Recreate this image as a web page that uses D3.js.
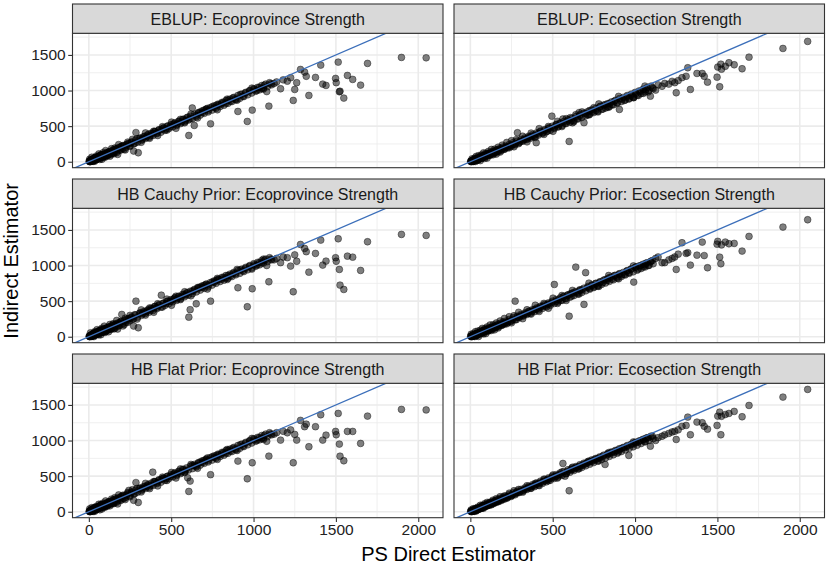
<!DOCTYPE html>
<html>
<head>
<meta charset="utf-8">
<script src="https://cdn.jsdelivr.net/npm/d3@7"></script>
<style>
  body { margin: 0; background: #fff; }
  svg { display: block; font-family: "Liberation Sans", Arial, Helvetica, sans-serif; }
</style>
</head>
<body>
<div id="graph"></div>
<script>
// PS direct estimate per area (shared by every panel)
const directEst = [
  3, 8, 12, 15, 20, 24, 28, 33, 38, 42, 48, 53, 58, 64, 70, 76, 83, 90, 98, 106, 115, 124, 133, 142, 152, 163, 175, 187, 200, 214, 228, 243, 258, 272, 286, 300,
  312, 325, 338, 350, 362, 375, 388, 400, 412, 425, 440, 455, 468, 480, 495, 510, 522, 535, 548, 562, 575, 588, 600, 607, 615, 628, 640, 652, 665, 678, 690, 700,
  712, 725, 739, 750, 762, 775, 790, 805, 818, 832, 845, 860, 875, 890, 905, 920, 935, 950, 962, 975, 992, 1005, 1020, 1035, 1050, 1065, 1080, 1093, 1105,
  1125, 1140, 1164, 1180, 1205, 1225, 1241, 1250, 1262, 1285, 1310, 1320, 1336, 1376, 1408, 1420, 1440, 1498, 1502, 1514, 1521, 1525, 1548, 1570, 1602, 1650, 1692, 1898, 2048,
  5, 10, 18, 26, 31, 36, 45, 50, 61, 67, 73, 80, 87, 94, 102, 110, 120, 128, 138, 147, 158, 169, 181, 194, 207, 221, 236, 250, 265, 279,
  293, 318, 344, 369, 394, 418, 447, 474, 502, 529, 556, 582, 620, 660, 720, 780, 840, 900, 990, 1060
]

// indirect estimates, one array per panel
const eblupProvince = [
  5, 2, 20, 8, 30, 15, 40, 25, 55, 30, 60, 45, 75, 50, 90, 62, 100, 72, 62, 120, 92, 140, 100, 150, 112, 175, 103, 200, 215, 173, 240, 255, 270, 150, 410, 126,
  330, 315, 355, 345, 385, 368, 400, 422, 405, 445, 450, 475, 460, 505, 490, 525, 540, 525, 565, 555, 595, 580, 625, 369, 600, 755, 510, 650, 685, 700, 690, 725,
  735, 720, 533, 775, 760, 795, 800, 815, 835, 820, 865, 850, 895, 880, 706, 945, 920, 965, 566, 995, 725, 1015, 1000, 1045, 1030, 1075, 985, 781, 1095,
  1100, 1120, 1025, 1150, 1132, 1180, 861, 1015, 1110, 1296, 1259, 1200, 931, 1184, 1357, 1090, 1072, 1170, 1110, 1399, 983, 990, 894, 1212, 1156, 1076, 1381, 1465, 1460,
  35, 3, 63, 5, 51, 8, 80, 35, 111, 32, 98, 35, 127, 74, 157, 80, 135, 78, 183, 122, 193, 129, 241, 164, 227, 166, 276, 215, 315, 259,
  323, 273, 404, 329, 429, 368, 492, 444, 557, 469, 596, 547, 670, 615, 750, 730, 880, 865, 1035, 1020
]
const eblupSection = [
  8, 5, 18, 12, 25, 20, 35, 30, 45, 38, 55, 48, 65, 58, 75, 68, 90, 80, 95, 100, 108, 118, 125, 135, 140, 150, 165, 175, 185, 200, 212, 225, 240, 255, 407, 280,
  290, 310, 320, 335, 350, 350, 372, 267, 395, 420, 410, 445, 430, 470, 640, 480, 520, 500, 540, 600, 540, 570, 285, 620, 580, 560, 660, 610, 640, 700, 548, 680,
  660, 720, 700, 760, 720, 700, 780, 740, 800, 770, 820, 800, 850, 830, 734, 880, 860, 910, 880, 930, 900, 960, 930, 990, 960, 1010, 980, 921, 1040,
  1006, 1080, 1060, 1100, 1090, 1130, 1110, 969, 1140, 1180, 1200, 1320, 1015, 1240, 1240, 1200, 1118, 1188, 1330, 1053, 1370, 1300, 1340, 1390, 1362, 1306, 1469, 1591, 1690,
  3, 40, 2, 51, 4, 76, 20, 85, 16, 97, 53, 125, 47, 119, 52, 145, 90, 173, 98, 177, 108, 204, 136, 234, 177, 271, 196, 295, 210, 309,
  253, 358, 279, 403, 342, 465, 384, 495, 427, 568, 494, 605, 546, 690, 658, 812, 765, 918, 900, 1063
]
const cauchyProvince = [
  6, 3, 22, 10, 32, 14, 42, 24, 56, 32, 62, 44, 78, 52, 88, 64, 102, 70, 60, 118, 95, 138, 102, 152, 110, 172, 108, 198, 313, 170, 238, 252, 268, 150, 500, 126,
  335, 320, 350, 350, 378, 372, 398, 425, 410, 440, 584, 470, 465, 500, 495, 520, 545, 530, 560, 560, 590, 585, 620, 275, 380, 640, 655, 463, 680, 700, 695, 720,
  735, 725, 500, 770, 765, 790, 805, 810, 835, 825, 860, 855, 890, 885, 688, 940, 925, 960, 421, 990, 674, 1010, 1005, 1040, 1035, 1070, 1000, 772, 1090,
  1080, 1100, 1040, 1120, 1110, 992, 632, 1150, 1060, 1296, 1240, 1194, 907, 1170, 1357, 1006, 1062, 1110, 1060, 1376, 945, 725, 664, 1132, 1118, 931, 1334, 1437, 1423,
  4, 55, 3, 46, 2, 71, 30, 100, 26, 92, 28, 120, 67, 149, 72, 125, 70, 173, 113, 182, 118, 229, 151, 214, 152, 261, 201, 300, 245, 309,
  248, 378, 304, 404, 344, 463, 417, 529, 442, 569, 521, 632, 575, 690, 670, 820, 805, 945, 950, 1090
]
const cauchySection = [
  6, 4, 15, 10, 22, 18, 30, 26, 40, 35, 50, 44, 60, 55, 70, 66, 85, 78, 92, 98, 105, 115, 122, 132, 138, 148, 160, 172, 182, 198, 210, 222, 238, 500, 270, 285,
  300, 305, 330, 330, 360, 355, 380, 385, 400, 415, 430, 430, 455, 460, 480, 734, 500, 520, 510, 560, 540, 580, 289, 600, 570, 620, 978, 620, 650, 660, 454, 900,
  690, 680, 720, 700, 750, 720, 770, 760, 800, 790, 830, 810, 860, 840, 880, 870, 875, 920, 900, 950, 767, 980, 950, 1000, 980, 1030, 1000, 1050, 1070,
  1100, 1120, 1039, 1040, 1080, 1100, 1120, 945, 1160, 1320, 1170, 1180, 1006, 1146, 1329, 1140, 969, 1300, 1340, 1118, 1025, 1290, 1330, 1306, 1311, 1203, 1409, 1540, 1643,
  35, 2, 43, 3, 71, 11, 80, 5, 91, 47, 118, 40, 112, 44, 137, 80, 165, 88, 168, 97, 193, 124, 221, 164, 257, 181, 281, 195, 295, 239,
  343, 253, 379, 318, 442, 355, 469, 400, 542, 468, 579, 510, 651, 600, 753, 707, 860, 813, 995, 1008
]
const flatProvince = [
  5, 4, 18, 10, 28, 16, 38, 26, 52, 34, 58, 46, 72, 54, 88, 64, 98, 74, 64, 116, 94, 136, 104, 148, 114, 170, 110, 196, 212, 187, 236, 300, 265, 160, 410, 130,
  330, 318, 352, 348, 380, 370, 556, 420, 408, 440, 455, 470, 462, 500, 492, 522, 540, 528, 562, 555, 592, 582, 477, 285, 430, 650, 645, 645, 682, 700, 692, 722,
  732, 720, 520, 772, 762, 792, 800, 812, 832, 822, 862, 852, 892, 882, 711, 942, 922, 962, 463, 992, 688, 1012, 1002, 1042, 1032, 1072, 990, 781, 1092,
  1090, 1110, 1006, 1130, 1109, 1150, 688, 1086, 1006, 1283, 1194, 1230, 913, 1194, 1362, 1006, 1076, 1128, 1081, 1381, 950, 780, 716, 1128, 1128, 959, 1343, 1437, 1430,
  40, 2, 58, 4, 56, 6, 75, 30, 106, 27, 103, 40, 122, 69, 152, 75, 140, 83, 178, 117, 198, 134, 236, 159, 232, 171, 271, 210, 310, 254,
  328, 278, 399, 324, 424, 363, 487, 439, 552, 474, 601, 552, 665, 610, 755, 735, 875, 860, 1030, 1015
]
const flatSection = [
  7, 5, 14, 12, 20, 20, 28, 28, 36, 36, 45, 46, 54, 56, 64, 66, 76, 78, 88, 96, 104, 112, 120, 130, 138, 148, 160, 172, 185, 198, 212, 225, 240, 255, 268, 282,
  295, 308, 322, 335, 345, 358, 370, 385, 395, 410, 420, 435, 450, 462, 475, 490, 500, 515, 525, 678, 500, 560, 295, 585, 590, 600, 615, 625, 640, 650, 665, 675,
  690, 700, 710, 725, 735, 750, 760, 780, 664, 800, 815, 830, 840, 860, 870, 890, 900, 915, 791, 940, 955, 970, 980, 1000, 1010, 1030, 1040, 921, 1060,
  1001, 1040, 1060, 1080, 1100, 1120, 1130, 1015, 1150, 1200, 1212, 1329, 1081, 1259, 1250, 1200, 1160, 1212, 1343, 1399, 1081, 1340, 1365, 1381, 1409, 1334, 1493, 1610, 1718,
  25, 2, 43, 6, 46, 11, 65, 35, 91, 47, 88, 50, 112, 79, 132, 90, 135, 98, 163, 127, 183, 144, 211, 174, 222, 191, 261, 225, 295, 264,
  313, 275, 365, 329, 398, 366, 459, 435, 517, 473, 559, 534, 625, 604, 711, 714, 831, 839, 980, 988
]

// the dense black band along y = x (core of small areas), per column
const coreDirect = [
  2, 6, 9, 13, 16, 19, 22, 26, 30, 34, 37, 41, 45, 49, 53, 57, 61, 66, 71, 75, 80, 85, 91, 96, 102, 108, 114, 120, 127, 134,
  141, 148, 155, 163, 171, 179, 188, 197, 206, 216, 226, 237, 248, 260, 272,
  284, 296, 308, 320, 331, 343, 355, 366, 378, 390, 402, 414, 426, 438, 450, 462, 474, 486, 498, 510,
  521, 533, 545, 557, 569, 581, 593, 605, 617, 629, 641, 653, 665, 677, 689, 701, 713, 725, 737, 749,
  761, 773, 785, 797, 809, 821, 833, 845, 857, 869, 881, 893, 905, 917, 929, 941, 953, 965, 977, 989,
  1001, 1013, 1025, 1037, 1049, 1061, 1073, 1085, 1097, 1110
]
const coreProvince = [
  8, 2, 20, 5, 25, 12, 30, 15, 42, 20, 50, 28, 60, 35, 45, 70, 48, 80, 55, 90, 65, 100, 75, 110, 85, 125, 95, 135, 110, 150,
  120, 165, 135, 180, 150, 195, 165, 215, 185, 230, 205, 255, 225, 280, 250,
  305, 275, 330, 300, 350, 325, 375, 345, 400, 370, 425, 395, 450, 415, 470, 440, 495, 465, 520, 490,
  545, 510, 570, 535, 595, 560, 615, 585, 640, 605, 665, 630, 690, 655, 715, 680, 740, 700, 760, 725,
  785, 750, 810, 775, 835, 795, 860, 820, 880, 845, 905, 870, 930, 890, 950, 915, 975, 940, 1000, 965,
  1025, 990, 1045, 1010, 1070, 1035, 1090, 1055, 1110, 1080
]
const coreSection = [
  6, 3, 15, 6, 20, 10, 26, 14, 36, 20, 44, 26, 52, 32, 40, 62, 44, 72, 52, 82, 62, 92, 72, 102, 82, 116, 92, 126, 104, 140,
  114, 155, 128, 170, 142, 185, 157, 205, 176, 220, 195, 243, 215, 268, 238,
  290, 268, 315, 290, 335, 312, 358, 330, 382, 352, 405, 375, 430, 398, 452, 420, 475, 442, 500, 468,
  522, 488, 545, 510, 568, 535, 590, 555, 612, 578, 635, 600, 660, 622, 682, 645, 705, 668, 728, 690,
  748, 710, 770, 735, 795, 755, 815, 778, 840, 800, 862, 822, 885, 845, 905, 868, 930, 890, 950, 912,
  975, 935, 995, 958, 1018, 980, 1040, 1002, 1062, 1025
]

const PANEL_TITLES = [
  'EBLUP: Ecoprovince Strength', 'EBLUP: Ecosection Strength',
  'HB Cauchy Prior: Ecoprovince Strength', 'HB Cauchy Prior: Ecosection Strength',
  'HB Flat Prior: Ecoprovince Strength', 'HB Flat Prior: Ecosection Strength'
]
const PANEL_VALUES = [eblupProvince, eblupSection, cauchyProvince, cauchySection, flatProvince, flatSection],
      PANEL_CORE = [coreProvince, coreSection, coreProvince, coreSection, coreProvince, coreSection]
const X_TICKS = [0, 500, 1000, 1500, 2000],
      X_MINOR = [250, 750, 1250, 1750],
      Y_TICKS = [0, 500, 1000, 1500],
      Y_MINOR = [250, 750, 1250, 1750]

const SIZE = Object.freeze({
  WIDTH: 829,
  HEIGHT: 568,
  LEFT: 72.5,
  TOP: 4,
  PANEL_W: 370.5,
  COL_GAP: 11,
  STRIP_H: 29.3,
  PANEL_H: 134.4,
  ROW_STEP: 175
})

const expand = (extent) => {
  const pad = (extent[1] - extent[0]) * 0.05
  return [extent[0] - pad, extent[1] + pad]
}

const xDomain = expand(d3.extent(directEst)),
      yDomain = expand([d3.min(PANEL_VALUES, v => d3.min(v)), d3.max(PANEL_VALUES, v => d3.max(v))])

const svg = d3.select('#graph')
  .append('svg')
  .attr('width', SIZE.WIDTH)
  .attr('height', SIZE.HEIGHT)

const defs = svg.append('defs')

const styleAxis = (a) => {
  a.attr('font-family', null).attr('font-size', null)
  a.select('.domain').remove()
  a.selectAll('line').attr('stroke', '#333').attr('stroke-width', 1.1)
  a.selectAll('text').style('font-size', '15.5px').style('fill', '#222')
}

PANEL_TITLES.forEach((title, i) => {
  const col = i % 2,
        row = Math.floor(i / 2),
        left = SIZE.LEFT + col * (SIZE.PANEL_W + SIZE.COL_GAP),
        stripTop = SIZE.TOP + row * SIZE.ROW_STEP,
        top = stripTop + SIZE.STRIP_H

  const x = d3.scaleLinear().domain(xDomain).range([left, left + SIZE.PANEL_W]),
        y = d3.scaleLinear().domain(yDomain).range([top + SIZE.PANEL_H, top])

  const g = svg.append('g').attr('class', 'panel')

  defs.append('clipPath')
    .attr('id', `clip-${i}`)
    .append('rect')
    .attr('x', left).attr('y', top)
    .attr('width', SIZE.PANEL_W).attr('height', SIZE.PANEL_H)

  // grid
  const grid = g.append('g').attr('stroke', '#ebebeb')
  grid.selectAll('.xminor').data(X_MINOR).enter().append('line')
    .attr('stroke-width', 0.8)
    .attr('x1', d => x(d)).attr('x2', d => x(d))
    .attr('y1', top).attr('y2', top + SIZE.PANEL_H)
  grid.selectAll('.yminor').data(Y_MINOR).enter().append('line')
    .attr('stroke-width', 0.8)
    .attr('x1', left).attr('x2', left + SIZE.PANEL_W)
    .attr('y1', d => y(d)).attr('y2', d => y(d))
  grid.selectAll('.xmajor').data(X_TICKS).enter().append('line')
    .attr('stroke-width', 1.6)
    .attr('x1', d => x(d)).attr('x2', d => x(d))
    .attr('y1', top).attr('y2', top + SIZE.PANEL_H)
  grid.selectAll('.ymajor').data(Y_TICKS).enter().append('line')
    .attr('stroke-width', 1.6)
    .attr('x1', left).attr('x2', left + SIZE.PANEL_W)
    .attr('y1', d => y(d)).attr('y2', d => y(d))

  // points
  const values = PANEL_VALUES[i],
        core = PANEL_CORE[i]
  const points = directEst.map((d, k) => [d, values[k]])
    .concat(coreDirect.map((d, k) => [d, core[k]]))

  g.append('g')
    .attr('clip-path', `url(#clip-${i})`)
    .selectAll('circle')
    .data(points)
    .enter()
    .append('circle')
    .attr('cx', d => x(d[0]))
    .attr('cy', d => y(d[1]))
    .attr('r', 3.4)
    .attr('fill', '#000')
    .attr('fill-opacity', 0.5)
    .attr('stroke', '#000')
    .attr('stroke-opacity', 0.5)
    .attr('stroke-width', 0.8)

  // y = x reference line
  g.append('line')
    .attr('clip-path', `url(#clip-${i})`)
    .attr('x1', x(xDomain[0])).attr('y1', y(xDomain[0]))
    .attr('x2', x(xDomain[1])).attr('y2', y(xDomain[1]))
    .attr('stroke', '#3c6fba')
    .attr('stroke-width', 1.3)

  // border + strip
  g.append('rect')
    .attr('x', left).attr('y', top)
    .attr('width', SIZE.PANEL_W).attr('height', SIZE.PANEL_H)
    .attr('fill', 'none').attr('stroke', '#333').attr('stroke-width', 1.1)
  g.append('rect')
    .attr('x', left).attr('y', stripTop)
    .attr('width', SIZE.PANEL_W).attr('height', SIZE.STRIP_H)
    .attr('fill', '#d9d9d9').attr('stroke', '#333').attr('stroke-width', 1.1)
  g.append('text')
    .attr('x', left + SIZE.PANEL_W / 2)
    .attr('y', stripTop + 20.8)
    .attr('text-anchor', 'middle')
    .style('font-size', '16px')
    .style('fill', '#1a1a1a')
    .text(title)

  if (col === 0) {
    g.append('g')
      .attr('transform', `translate(${left},0)`)
      .call(d3.axisLeft(y).tickValues(Y_TICKS).tickFormat(d3.format('d')).tickSize(4.3).tickPadding(2.5))
      .call(styleAxis)
  }
  if (row === 2) {
    g.append('g')
      .attr('transform', `translate(0,${top + SIZE.PANEL_H})`)
      .call(d3.axisBottom(x).tickValues(X_TICKS).tickFormat(d3.format('d')).tickSize(4.3).tickPadding(2))
      .call(styleAxis)
  }
})

svg.append('text')
  .attr('x', SIZE.LEFT + SIZE.PANEL_W + SIZE.COL_GAP / 2)
  .attr('y', 561)
  .attr('text-anchor', 'middle')
  .style('font-size', '20px')
  .text('PS Direct Estimator')

svg.append('text')
  .attr('transform', `translate(18,${SIZE.TOP + (SIZE.ROW_STEP * 2 + SIZE.STRIP_H + SIZE.PANEL_H) / 2}) rotate(-90)`)
  .attr('text-anchor', 'middle')
  .style('font-size', '20px')
  .text('Indirect Estimator')
</script>
</body>
</html>
